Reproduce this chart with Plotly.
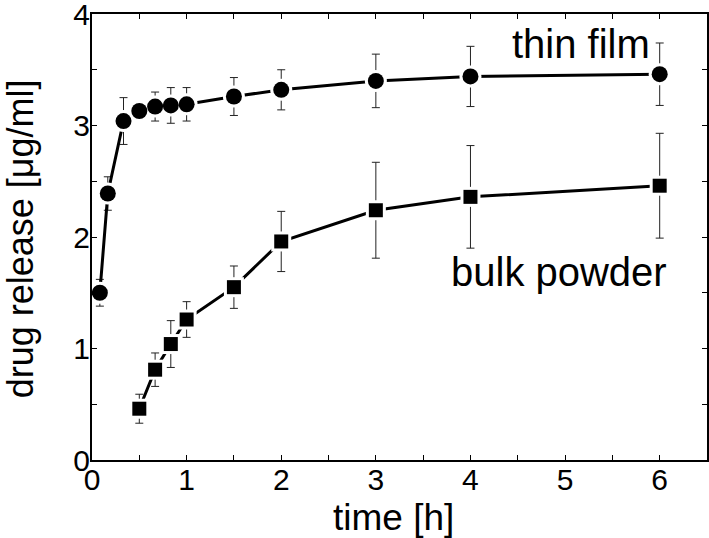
import plotly.graph_objects as go

# time points [h]
t_film = [0.083, 0.167, 0.333, 0.5, 0.667, 0.833, 1, 1.5, 2, 3, 4, 6]
film = [1.50, 2.39, 3.04, 3.13, 3.17, 3.18, 3.19, 3.26, 3.32, 3.40, 3.44, 3.46]
film_err = [0.12, 0.15, 0.21, 0.08, 0.13, 0.16, 0.15, 0.17, 0.18, 0.24, 0.27, 0.28]

t_bulk = [0.5, 0.667, 0.833, 1, 1.5, 2, 3, 4, 6]
bulk = [0.46, 0.81, 1.04, 1.26, 1.55, 1.96, 2.24, 2.36, 2.46]
bulk_err = [0.13, 0.15, 0.21, 0.16, 0.19, 0.27, 0.43, 0.46, 0.47]

x_ticks = [0, 0.5, 1, 1.5, 2, 2.5, 3, 3.5, 4, 4.5, 5, 5.5, 6]
x_labels = ["0", "", "1", "", "2", "", "3", "", "4", "", "5", "", "6"]
y_ticks = [0, 0.5, 1, 1.5, 2, 2.5, 3, 3.5, 4]
y_labels = ["0", "", "1", "", "2", "", "3", "", "4"]

FONT = "Liberation Sans, Arial, sans-serif"

fig = go.Figure()

for x, y, e, sym, sz in [(t_film, film, film_err, "circle", 16),
                         (t_bulk, bulk, bulk_err, "square", 14)]:
    # line + error bars
    fig.add_trace(go.Scatter(x=x, y=y, mode="lines", line=dict(color="black", width=3),
                             error_y=dict(type="data", array=e, color="#222", thickness=1, width=4),
                             showlegend=False, hoverinfo="skip"))
    # white halo so the line stops a little short of each marker
    fig.add_trace(go.Scatter(x=x, y=y, mode="markers",
                             marker=dict(symbol=sym, size=sz + 6, color="white"),
                             showlegend=False, hoverinfo="skip"))

for x, y, sym, sz in [(t_film, film, "circle", 16), (t_bulk, bulk, "square", 14)]:
    fig.add_trace(go.Scatter(x=x, y=y, mode="markers",
                             marker=dict(symbol=sym, size=sz, color="black"),
                             showlegend=False))

fig.add_annotation(x=5.17, y=3.73, text="thin film", showarrow=False,
                   font=dict(size=40, color="black", family=FONT))
fig.add_annotation(x=4.94, y=1.69, text="bulk powder", showarrow=False,
                   font=dict(size=40, color="black", family=FONT))

# axis titles as annotations so the margins stay fixed
fig.add_annotation(x=0.49, y=-0.128, xref="paper", yref="paper", text="time [h]",
                   showarrow=False, xanchor="center", yanchor="middle",
                   font=dict(size=37, color="black", family=FONT))
fig.add_annotation(x=-0.117, y=0.495, xref="paper", yref="paper", text="drug release [μg/ml]",
                   showarrow=False, xanchor="center", yanchor="middle", textangle=-90,
                   font=dict(size=36, color="black", family=FONT))

axis_common = dict(showline=True, linecolor="black", linewidth=2, mirror="ticks",
                   ticks="inside", ticklen=5, tickwidth=1, tickcolor="black",
                   showgrid=False, zeroline=False, automargin=False,
                   ticklabeloverflow="allow",
                   tickfont=dict(size=30, color="black", family=FONT))

fig.update_xaxes(range=[0, 6.5], tickvals=x_ticks, ticktext=x_labels,
                 ticklabelstandoff=-8, **axis_common)
fig.update_yaxes(range=[0, 4], tickvals=y_ticks, ticktext=y_labels,
                 ticklabelstandoff=-6, **axis_common)

fig.update_layout(width=709, height=538, margin=dict(l=92, r=2, t=14, b=78),
                  plot_bgcolor="white", paper_bgcolor="white",
                  font=dict(family=FONT, color="black"))

# drop the default page margin so the figure fills the window exactly
fig.write_html("out.html", config={"displayModeBar": False},
               post_script="document.body.style.margin='0';")
